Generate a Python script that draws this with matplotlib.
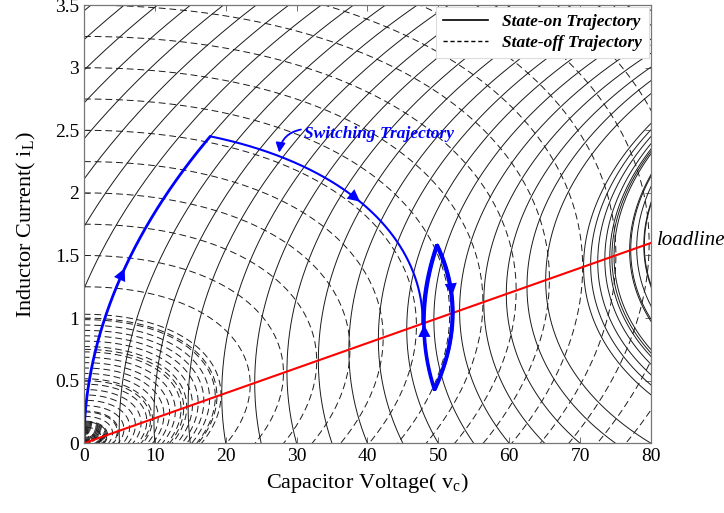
import numpy as np
import matplotlib
matplotlib.use('Agg')
import matplotlib.pyplot as plt
from matplotlib.lines import Line2D

# circuit parameters (normalised time, L = Z0, C = 1/Z0)
VIN = 120.0
R_LOAD = 50.0
Z0 = 27.0

# starting points of the phase-plane trajectories
on_start_v = [-120, -110, -100, -90, -80, -70, -60, -55, -50, -45, -40, -35,
              -30, -25, -20, -15, -10, -5, 0, 5, 10, 15, 20, 25, 30, 35, 40,
              45, 50, 55, 60, 65, 70, 75, 80]
# extra state-on curves started on the load line (their leftmost points)
on_loadline_v = [70.5, 71.5, 72.5, 73.5, 74.2, 74.5, 74.8, 77.0, 78.0, 79.0]
off_start_i = [0.25, 0.5, 0.75, 1.0, 1.25, 1.5, 1.75, 2.0, 2.25, 2.5, 2.75,
               3.0, 3.25, 3.5, 3.75, 4.0, 4.25, 4.5, 4.75, 5.0, 5.25, 5.5,
               5.75, 6.0]

# switching trajectory thresholds
i_first_peak = 2.45
i_high = 1.58
i_low = 0.43
n_cycles = 3

x_ticks = [0, 10, 20, 30, 40, 50, 60, 70, 80]
y_ticks = [0, 0.5, 1, 1.5, 2, 2.5, 3, 3.5]
loadline_v = [0, 80]

SERIF = 'Liberation Serif'


def deriv(v, i, on):
    dv = Z0 * (i - v / R_LOAD)
    di = ((VIN if on else 0.0) - v) / Z0
    return dv, di


def rk4(v, i, on, dt):
    k1 = deriv(v, i, on)
    k2 = deriv(v + dt / 2 * k1[0], i + dt / 2 * k1[1], on)
    k3 = deriv(v + dt / 2 * k2[0], i + dt / 2 * k2[1], on)
    k4 = deriv(v + dt * k3[0], i + dt * k3[1], on)
    return (v + dt / 6 * (k1[0] + 2 * k2[0] + 2 * k3[0] + k4[0]),
            i + dt / 6 * (k1[1] + 2 * k2[1] + 2 * k3[1] + k4[1]))


def integrate(v, i, on, t_end=40.0, dt=0.004):
    v = np.asarray(v, dtype=float)
    i = np.asarray(i, dtype=float)
    n = int(t_end / abs(dt))
    vs = np.empty((n + 1,) + v.shape)
    iss = np.empty((n + 1,) + v.shape)
    vs[0], iss[0] = v, i
    for k in range(n):
        v, i = rk4(v, i, on, dt)
        vs[k + 1], iss[k + 1] = v, i
    return vs, iss


def switching_path(dt=0.0005):
    v, i = 0.0, 0.0
    segs = []
    phases = [(True, lambda v, i: i >= i_first_peak),
              (False, lambda v, i: i <= v / R_LOAD)]
    for _ in range(n_cycles):
        phases.append((True, lambda v, i: i >= i_high))
        phases.append((False, lambda v, i: i <= i_low))
    for on, stop in phases:
        seg = [(v, i)]
        for _ in range(400000):
            v, i = rk4(v, i, on, dt)
            seg.append((v, i))
            if stop(v, i):
                break
        segs.append(np.array(seg))
    return segs


fig = plt.figure(figsize=(7.24, 5.13), dpi=100)
ax = fig.add_axes([0.116, 0.136, 0.783, 0.854])
line_col = '#1a1a1a'

# state-on family
vs, iss = integrate(on_start_v, np.zeros(len(on_start_v)), True)
ax.plot(vs, iss, color=line_col, lw=0.7, ls='-')
lv = np.array(on_loadline_v)
for step in (0.004, -0.004):
    vs, iss = integrate(lv, lv / R_LOAD, True, t_end=3.0, dt=step)
    ax.plot(vs, iss, color=line_col, lw=0.7, ls='-')

# state-off family
vs, iss = integrate(np.zeros(len(off_start_i)), off_start_i, False)
ax.plot(vs, iss, color=line_col, lw=0.7, ls=(0, (7, 4)))

# load line
ax.plot(loadline_v, [v / R_LOAD for v in loadline_v], color='red', lw=1.5)

# switching trajectory
segs = switching_path()
widths = [2.0, 1.5] + [2.2] * (2 * n_cycles)
for seg, w in zip(segs, widths):
    ax.plot(seg[:, 0], seg[:, 1], color='blue', lw=w, solid_capstyle='round')


def arrow_on(seg, frac):
    k = int(frac * (len(seg) - 1))
    p0 = seg[max(k - 20, 0)]
    p1 = seg[k]
    ax.annotate('', xy=(p1[0], p1[1]), xytext=(p0[0], p0[1]),
                arrowprops=dict(arrowstyle='-|>', color='blue', lw=0,
                                mutation_scale=22, shrinkA=0, shrinkB=0))


arrow_on(segs[0], 0.55)
arrow_on(segs[1], 0.45)
arrow_on(segs[-1], 0.35)
arrow_on(segs[-2], 0.45)

ax.text(31, 2.47, 'Switching Trajectory', color='blue', family=SERIF,
        style='italic', weight='bold', fontsize=12.5, va='center')
ax.annotate('', xy=(27.5, 2.3), xytext=(31, 2.51),
            arrowprops=dict(arrowstyle='-|>', color='blue', lw=1.3,
                            connectionstyle='arc3,rad=0.4', mutation_scale=14))

ax.text(80.8, 1.62, 'loadline', family=SERIF, style='italic', fontsize=15,
        va='center', ha='left', clip_on=False)

ax.set_xlim(0, 80)
ax.set_ylim(0, 3.5)
ax.set_xticks(x_ticks)
ax.set_yticks(y_ticks)
ax.set_xticklabels([str(t) for t in x_ticks], family=SERIF, fontsize=14)
ax.set_yticklabels([('%g' % t) for t in y_ticks], family=SERIF, fontsize=14)
ax.tick_params(direction='in', top=True, right=True, length=4, width=0.6,
               color='#555555')
for s in ax.spines.values():
    s.set_color('#777777')
    s.set_linewidth(0.9)
ax.set_xlabel('Capacitor Voltage( v$_\\mathregular{c}$)', family=SERIF, fontsize=16, labelpad=4)
ax.set_ylabel('Inductor Current( i$_\\mathregular{L}$)', family=SERIF, fontsize=16, labelpad=12)

handles = [Line2D([], [], color='k', lw=1.2, ls='-'),
           Line2D([], [], color='k', lw=1.0, ls=(0, (3, 2)))]
leg = ax.legend(handles, ['State-on Trajectory', 'State-off Trajectory'],
                loc='upper right', prop=dict(family=SERIF, style='italic', weight='bold', size=12.5),
                fancybox=False, framealpha=1, edgecolor='#dddddd',
                borderaxespad=0.1, handlelength=2.6, labelspacing=0.3)
leg.get_frame().set_linewidth(0.8)

fig.savefig('out.png', dpi=100)
